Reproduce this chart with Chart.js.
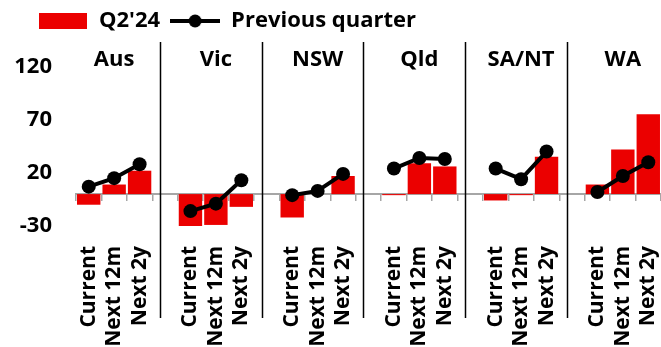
<!DOCTYPE html>
<html>
<head>
<meta charset="utf-8">
<script src="https://cdn.jsdelivr.net/npm/chart.js@4.4.1/dist/chart.umd.min.js"></script>
<style>
  body { margin: 0; background: #fff; }
  canvas { display: block; }
</style>
</head>
<body>
<canvas id="chart" width="661" height="347"></canvas>
<script>
// regions, each one gets 3 horizons and an empty slot after it
var regions = ['Aus', 'Vic', 'NSW', 'Qld', 'SA/NT', 'WA'];
var categories = [
    'Current', 'Next 12m', 'Next 2y', '',
    'Current', 'Next 12m', 'Next 2y', '',
    'Current', 'Next 12m', 'Next 2y', '',
    'Current', 'Next 12m', 'Next 2y', '',
    'Current', 'Next 12m', 'Next 2y', '',
    'Current', 'Next 12m', 'Next 2y'
];
var q2Label = "Q2'24";
var q2Values = [
    -10, 9, 22, null,
    -32, -29, -12, null,
    -22, 0, 17, null,
    -1, 29, 26, null,
    -6, -1, 35, null,
    9, 42, 75
];
var prevLabel = 'Previous quarter';
var prevValues = [
    7, 15, 28, null,
    -16, -9, 13, null,
    -1, 3, 19, null,
    24, 34, 33, null,
    24, 14, 40, null,
    2, 17, 30
];
var yTicks = [-30, 20, 70, 120];

var RED = 'rgb(235, 0, 0)';
var AXIS_GREY = '#a6a6a6';

Chart.defaults.font.family = "'Open Sans', sans-serif";
Chart.defaults.font.weight = 'bold';
Chart.defaults.font.size = 22;
Chart.defaults.color = '#000';

// little pictures for the legend
function barSwatch() {
    var c = document.createElement('canvas');
    c.width = 50; c.height = 16;
    var g = c.getContext('2d');
    g.fillStyle = RED;
    g.fillRect(1, 0, 48, 16);
    return c;
}
function lineSwatch() {
    var c = document.createElement('canvas');
    c.width = 50; c.height = 16;
    var g = c.getContext('2d');
    g.strokeStyle = '#000';
    g.lineWidth = 4;
    g.beginPath();
    g.moveTo(0, 8);
    g.lineTo(50, 8);
    g.stroke();
    g.fillStyle = '#000';
    g.beginPath();
    g.arc(25, 8, 6.5, 0, Math.PI * 2);
    g.fill();
    return c;
}

// vertical dividers + region names
var regionPlugin = {
    id: 'regions',
    afterLayout: function (chart) {
        // legend starts a bit in from the left edge
        chart.legend.left = 28;
    },
    afterDatasetsDraw: function (chart) {
        var ctx = chart.ctx;
        var x = chart.scales.x;
        var area = chart.chartArea;
        var step = x.getPixelForValue(1) - x.getPixelForValue(0);
        ctx.save();
        ctx.strokeStyle = '#000';
        ctx.lineWidth = 1.5;
        for (var i = 1; i < regions.length; i++) {
            var px = Math.round(x.getPixelForValue(i * 4 - 1) - step * 0.2) + 0.5;
            ctx.beginPath();
            ctx.moveTo(px, area.top);
            ctx.lineTo(px, chart.height - 29);
            ctx.stroke();
        }
        ctx.font = "bold 22px 'Open Sans', sans-serif";
        ctx.fillStyle = '#000';
        ctx.textAlign = 'center';
        ctx.textBaseline = 'middle';
        for (var j = 0; j < regions.length; j++) {
            ctx.fillText(regions[j], x.getPixelForValue(j * 4 + 1), area.top + 18);
        }
        ctx.restore();
    }
};

var ctx = document.getElementById('chart').getContext('2d');
window.regionChart = new Chart(ctx, {
    type: 'bar',
    data: {
        labels: categories,
        datasets: [{
            type: 'line',
            label: prevLabel,
            data: prevValues,
            borderColor: '#000',
            backgroundColor: '#000',
            borderWidth: 4,
            pointRadius: 7,
            pointBackgroundColor: '#000',
            pointBorderWidth: 0,
            spanGaps: false,
            order: 0
        }, {
            type: 'bar',
            label: q2Label,
            data: q2Values,
            backgroundColor: RED,
            categoryPercentage: 1,
            barPercentage: 0.92,
            order: 1
        }]
    },
    options: {
        responsive: false,
        animation: false,
        devicePixelRatio: 1,
        layout: {
            padding: 0,
            autoPadding: false
        },
        plugins: {
            tooltip: { enabled: false },
            legend: {
                position: 'top',
                align: 'start',
                labels: {
                    usePointStyle: true,
                    pointStyleWidth: 50,
                    boxHeight: 16,
                    padding: 10,
                    generateLabels: function (chart) {
                        return [
                            { text: q2Label, pointStyle: barSwatch(), datasetIndex: 1, hidden: false, lineWidth: 0 },
                            { text: prevLabel, pointStyle: lineSwatch(), datasetIndex: 0, hidden: false, lineWidth: 0 }
                        ];
                    }
                }
            }
        },
        scales: {
            x: {
                type: 'category',
                position: { y: 0 },
                offset: true,
                ticks: { display: false },
                grid: {
                    offset: true,
                    drawOnChartArea: false,
                    drawTicks: true,
                    tickLength: 6,
                    color: AXIS_GREY,
                    lineWidth: 1.5
                },
                border: { color: AXIS_GREY, width: 2 }
            },
            x2: {
                type: 'category',
                position: 'bottom',
                offset: true,
                grid: { display: false, drawTicks: false },
                border: { display: false },
                ticks: {
                    autoSkip: false,
                    minRotation: 90,
                    maxRotation: 90,
                    padding: 20,
                    font: { size: 21 }
                },
                afterFit: function (scale) {
                    scale.height = 121;
                    scale.paddingLeft = 0;
                    scale.paddingRight = 0;
                }
            },
            y: {
                min: -30,
                max: 143,
                grid: { display: false, drawTicks: false },
                border: { display: false },
                ticks: { padding: 24 },
                afterBuildTicks: function (scale) {
                    scale.ticks = yTicks.map(function (v) { return { value: v }; });
                },
                afterFit: function (scale) { scale.width = 76; }
            }
        }
    },
    plugins: [regionPlugin]
});
</script>
</body>
</html>
